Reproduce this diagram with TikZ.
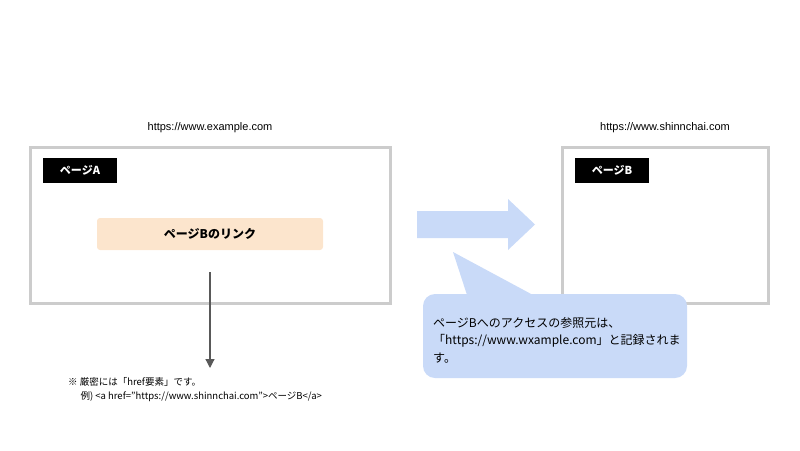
\documentclass[tikz,border=0pt]{standalone}
\usetikzlibrary{arrows.meta}
\usepackage{fontspec}
\setmainfont{Noto Sans CJK JP}
\newfontfamily\lat{Liberation Sans}
\definecolor{bub}{RGB}{201,218,248}
\definecolor{lnk}{RGB}{252,229,205}
\definecolor{arr}{RGB}{89,89,89}
\begin{document}
\begin{tikzpicture}[x=1pt,y=-1pt,
  page/.style={draw=black!20,line width=3pt},
  tag/.style={fill=black,text=white,font=\fontsize{11}{13}\selectfont\bfseries,minimum width=74pt,minimum height=25pt,inner sep=0pt},
  url/.style={font=\lat\fontsize{11}{13}\selectfont}]
\useasboundingbox (0,0) rectangle (800,450);
\draw[page] (30,147) rectangle (390,303);
\draw[page] (562,147) rectangle (768,303);
\node[url] (ua) at (210,128) {https://www.example.com};
\node[url] (ub) at (665,128) {https://www.shinnchai.com};
\node[tag] (ta) at (80,170.5) {ページA};
\node[tag] (tb) at (612,170.5) {ページB};
\node[fill=lnk,rounded corners=3pt,minimum width=226pt,minimum height=32pt,font=\fontsize{12}{14}\selectfont\bfseries] (link) at (210,234) {ページBのリンク};
\fill[bub] (417,211) -- (508,211) -- (508,199) -- (535,224.5) -- (508,250) -- (508,238) -- (417,238) -- cycle;
\fill[bub,rounded corners=12pt] (423,294) rectangle (687,378);
\fill[bub] (453,252) -- (467,295) -- (533,295) -- cycle;
\node[anchor=west,align=left,font=\fontsize{12}{17.5}\selectfont,inner sep=0pt] (bt) at (433,340) {ページBへのアクセスの参照元は、\\「https://www.wxample.com」と記録されま\\す。};
\coordinate (s) at (210,272);
\coordinate (e) at (210,368);
\draw[arr,line width=1.2pt,-{Triangle[length=9pt,width=9pt]}] (s) -- (e);
\node[anchor=west,align=left,font=\fontsize{9.5}{14}\selectfont,inner sep=0pt] (note) at (68,390) {※ 厳密には「href要素」です。\\\hspace{1.3em}例) <a href="https://www.shinnchai.com">ページB</a>};
\end{tikzpicture}
\end{document}
